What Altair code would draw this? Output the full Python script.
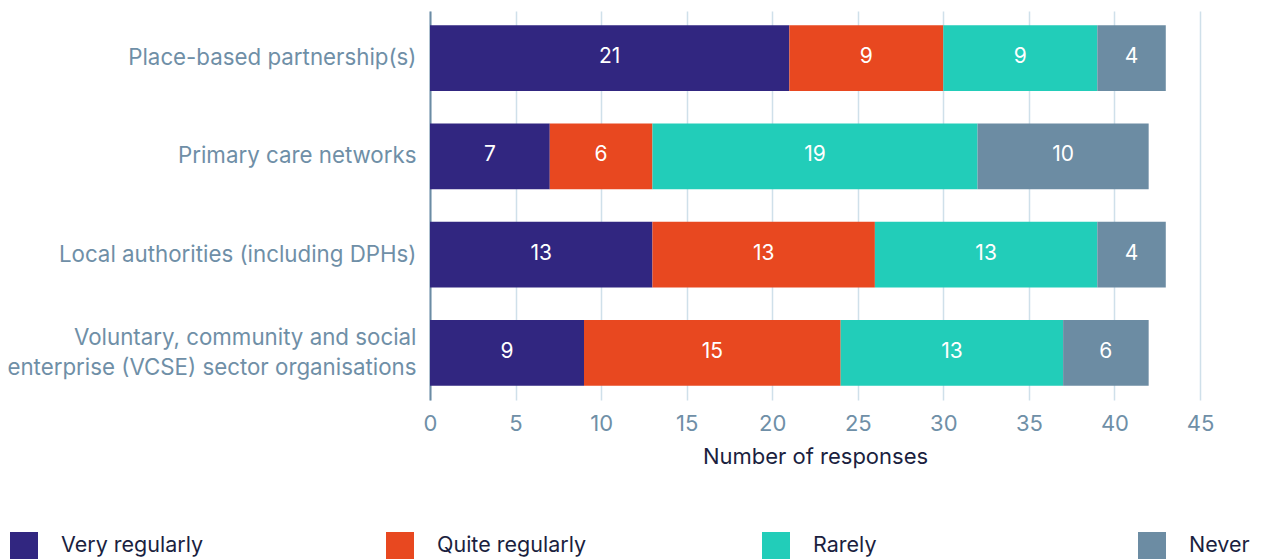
import altair as alt
import pandas as pd

categories = [
    "Place-based partnership(s)",
    "Primary care networks",
    "Local authorities (including DPHs)",
    "Voluntary, community and social enterprise (VCSE) sector organisations",
]
series = ["Very regularly", "Quite regularly", "Rarely", "Never"]
colors = ["#312680", "#e84820", "#22cdb9", "#6c8ca3"]

very_regularly = [21, 7, 13, 9]
quite_regularly = [9, 6, 13, 15]
rarely = [9, 19, 13, 13]
never = [4, 10, 4, 5]
# labels printed on the bars (as shown in the original)
very_regularly_labels = [21, 7, 13, 9]
quite_regularly_labels = [9, 6, 13, 15]
rarely_labels = [9, 19, 13, 13]
never_labels = [4, 10, 4, 6]

values = [very_regularly, quite_regularly, rarely, never]
labels = [very_regularly_labels, quite_regularly_labels, rarely_labels, never_labels]

rows = []
for si, s in enumerate(series):
    for ci, c in enumerate(categories):
        rows.append({"category": c, "series": s, "order": si,
                     "value": values[si][ci], "label": str(labels[si][ci])})
df = pd.DataFrame(rows)

FONT = "Inter"
LABEL_COLOR = "#6f8fa7"
DARK = "#1b1f3f"

long_name = categories[3]
label_expr = (
    f"datum.label == '{long_name}' ? "
    "['Voluntary, community and social', 'enterprise (VCSE) sector organisations'] : datum.label"
)

y_enc = alt.Y(
    "category:N",
    sort=categories,
    title=None,
    scale=alt.Scale(paddingInner=0.33, paddingOuter=0.144),
    axis=alt.Axis(
        labelExpr=label_expr,
        labelFont=FONT,
        labelFontSize=22.3,
        labelColor=LABEL_COLOR,
        labelPadding=14,
        labelLineHeight=30,
        labelOffset={"condition": {"test": f"datum.value == '{long_name}'", "value": -15}, "value": 0},
        labelLimit=500,
        ticks=False,
        domain=True,
        domainColor="#6b8ba4",
        domainWidth=2,
        grid=False,
    ),
)

base = alt.Chart(df)

bars = base.mark_bar().encode(
    x=alt.X(
        "sum(value):Q",
        stack="zero",
        title="Number of responses",
        scale=alt.Scale(domain=[0, 45], nice=False),
        axis=alt.Axis(
            values=list(range(0, 50, 5)),
            grid=True,
            gridColor="#cfe0ea",
            gridWidth=1.5,
            domain=False,
            ticks=False,
            labelFlush=False,
            labelFont=FONT,
            labelFontSize=22,
            labelColor=LABEL_COLOR,
            labelPadding=13,
            titleFont=FONT,
            titleFontSize=22,
            titleFontWeight="normal",
            titleColor=DARK,
            titlePadding=12,
        ),
    ),
    y=y_enc,
    color=alt.Color(
        "series:N",
        scale=alt.Scale(domain=series, range=colors),
        sort=series,
        legend=alt.Legend(
            title=None,
            orient="none",
            legendX=-420,
            legendY=521,
            direction="horizontal",
            columns=4,
            gridAlign="all",
            columnPadding=175,
            symbolType="square",
            symbolSize=784,
            symbolStrokeWidth=0,
            symbolOpacity=1,
            labelFont=FONT,
            labelFontSize=21.5,
            labelColor=DARK,
            labelOffset=23,
            labelLimit=400,
        ),
    ),
    order=alt.Order("order:Q"),
)

text = base.transform_stack(
    stack="value",
    groupby=["category"],
    as_=["x0", "x1"],
    sort=[alt.SortField("order", order="ascending")],
).transform_calculate(
    mid="(datum.x0 + datum.x1) / 2"
).mark_text(
    font=FONT, fontSize=21, color="white", baseline="middle", align="center", dy=-1
).encode(
    x=alt.X("mid:Q"),
    y=alt.Y("category:N", sort=categories),
    text="label:N",
)

chart = alt.layer(bars, text).properties(
    width=770,
    height=389,
    autosize=alt.AutoSizeParams(type="none"),
    padding={"left": 430, "top": 11, "right": 64, "bottom": 159},
).configure_view(stroke=None)

chart.save("out.html", embed_options={"renderer": "svg", "actions": False})
